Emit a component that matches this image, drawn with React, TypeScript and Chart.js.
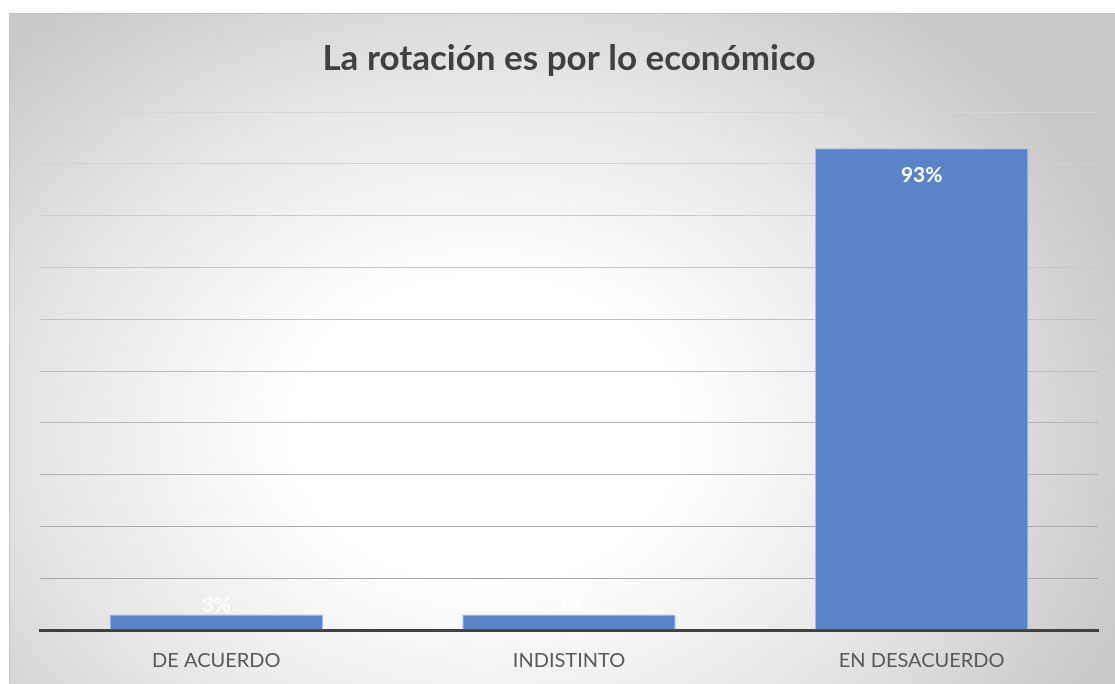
import React, { useEffect, useRef } from "react";
import { Chart, registerables } from "chart.js";

Chart.register(...registerables);

const categories = ["DE ACUERDO", "INDISTINTO", "EN DESACUERDO"];
const values = [3, 3, 93];
const labelColors = ["#ffffff", "#ffffff", "#ffffff"];
const titleText = "La rotación es por lo económico";

const labelPlugin = {
  id: "barLabels",
  afterDatasetsDraw(chart: any) {
    const { ctx } = chart;
    const meta = chart.getDatasetMeta(0);
    ctx.save();
    ctx.font = "bold 21px Lato";
    ctx.textAlign = "center";
    ctx.textBaseline = "middle";
    meta.data.forEach((bar: any, i: number) => {
      const h = bar.base - bar.y;
      const y = h > 40 ? bar.y + 27 : bar.y - 9;
      ctx.fillStyle = labelColors[i];
      ctx.fillText(values[i] + "%", bar.x, y);
    });
    ctx.restore();
  },
};

function gridColor(ctx: any) {
  const t = (ctx.tick && typeof ctx.tick.value === "number" ? ctx.tick.value : 50) / 100;
  const c = Math.round(0xa2 + (0xd6 - 0xa2) * t);
  return `rgb(${c},${c},${c})`;
}

export default function App() {
  const ref = useRef<HTMLCanvasElement>(null);
  useEffect(() => {
    if (!ref.current) return;
    const chart = new Chart(ref.current, {
      type: "bar",
      data: {
        labels: categories,
        datasets: [
          {
            data: values,
            backgroundColor: "#5b83c8",
            borderColor: "#a9bfe6",
            borderWidth: 1,
            categoryPercentage: 1,
            barPercentage: 0.605,
          },
        ],
      },
      options: {
        responsive: false,
        animation: false,
        layout: { padding: { left: 30, right: 17, top: 0, bottom: 22 } },
        plugins: {
          legend: { display: false },
          tooltip: { enabled: false },
          title: {
            display: true,
            text: titleText,
            color: "#404040",
            font: { family: "Lato", size: 35, weight: "bold" },
            padding: { top: 24, bottom: 32 },
          },
        },
        scales: {
          x: {
            grid: { display: false, drawTicks: false },
            border: { display: true, color: "#404040", width: 3 },
            ticks: {
              color: "#595959",
              font: { family: "Lato", size: 20 },
              padding: 19,
            },
          },
          y: {
            min: 0,
            max: 100,
            ticks: { display: false, stepSize: 10 },
            grid: { color: gridColor, lineWidth: 1, drawTicks: false },
            border: { display: false },
          },
        },
      },
      plugins: [labelPlugin],
    });
    return () => chart.destroy();
  }, []);
  return (
    <div
      style={{
        position: "absolute",
        left: 9,
        top: 13,
        width: 1106,
        height: 671,
        overflow: "hidden",
        boxSizing: "border-box",
        borderLeft: "1px solid #c4c4c4",
        borderTop: "1px solid #c4c4c4",
        background:
          "radial-gradient(ellipse 62% 80% at 43% 62%, #ffffff 0%, #ffffff 28%, #e6e6e6 65%, #c8c8c8 100%)",
      }}
    >
      <canvas ref={ref} width={1105} height={700} style={{ display: "block" }} />
    </div>
  );
}
